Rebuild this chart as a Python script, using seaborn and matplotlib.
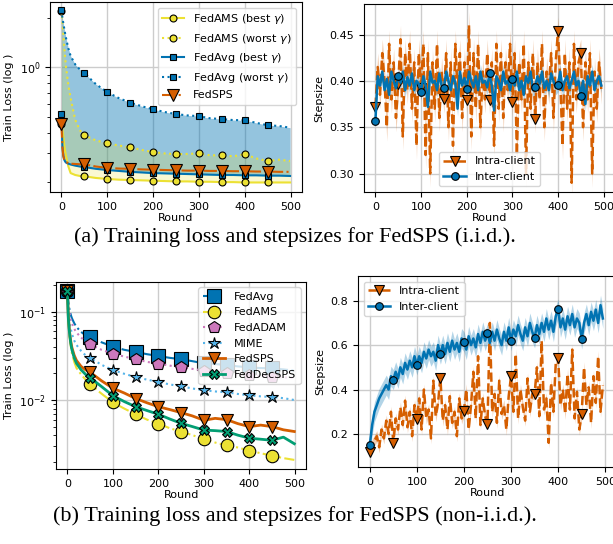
import matplotlib
matplotlib.use("Agg")
import matplotlib.pyplot as plt
import matplotlib.ticker as mticker
import seaborn as sns

# ---- data ------------------------------------------------------------------
loss_rounds = [0, 2, 4, 6, 8, 10, 15, 20, 30, 40, 50, 75, 100, 125, 150, 175, 200,
               225, 250, 275, 300, 325, 350, 375, 400, 425, 450, 475, 499]

# (a) i.i.d. training loss
fedams_best = [0.45, 0.42, 0.38, 0.34, 0.31, 0.29, 0.25, 0.228, 0.222, 0.219, 0.218, 0.213,
               0.21, 0.208, 0.207, 0.206, 0.205, 0.204, 0.203, 0.203, 0.202, 0.202, 0.201,
               0.201, 0.2, 0.2, 0.2, 0.2, 0.2]
fedams_worst = [2.2, 1.9, 1.6, 1.35, 1.15, 1.0, 0.78, 0.65, 0.48, 0.415, 0.387, 0.36, 0.346,
                0.335, 0.327, 0.315, 0.306, 0.30, 0.297, 0.298, 0.30, 0.292, 0.293, 0.288,
                0.297, 0.28, 0.27, 0.275, 0.27]
fedavg_best = [0.52, 0.33, 0.29, 0.275, 0.268, 0.264, 0.26, 0.257, 0.253, 0.25, 0.248, 0.242,
               0.238, 0.235, 0.232, 0.23, 0.228, 0.227, 0.226, 0.225, 0.224, 0.223, 0.222,
               0.222, 0.221, 0.221, 0.22, 0.22, 0.219]
fedavg_worst = [2.22, 2.0, 1.85, 1.72, 1.6, 1.5, 1.3, 1.17, 1.04, 0.97, 0.92, 0.79, 0.706,
                0.65, 0.61, 0.58, 0.556, 0.535, 0.52, 0.51, 0.505, 0.49, 0.485, 0.478, 0.477,
                0.46, 0.445, 0.44, 0.43]
fedsps_iid = [0.45, 0.33, 0.29, 0.275, 0.27, 0.266, 0.262, 0.26, 0.259, 0.258, 0.258, 0.25,
              0.245, 0.243, 0.242, 0.24, 0.239, 0.238, 0.237, 0.236, 0.236, 0.235, 0.235,
              0.234, 0.234, 0.233, 0.233, 0.232, 0.232]

# (b) non-i.i.d. training loss
nf_fedavg = [0.17, 0.13, 0.11, 0.098, 0.09, 0.084, 0.074, 0.067, 0.059, 0.054, 0.0513, 0.045,
             0.0402, 0.037, 0.035, 0.033, 0.0315, 0.030, 0.0289, 0.0275, 0.026, 0.0255,
             0.0249, 0.024, 0.0234, 0.023, 0.0228, 0.0222, 0.0215]
nf_fedams = [0.17, 0.08, 0.058, 0.046, 0.039, 0.034, 0.027, 0.023, 0.0195, 0.017, 0.0151,
             0.0118, 0.0094, 0.008, 0.0069, 0.006, 0.0054, 0.0048, 0.00438, 0.004, 0.00362,
             0.0033, 0.00307, 0.0029, 0.00267, 0.0025, 0.00234, 0.0022, 0.0021]
nf_fedadam = [0.17, 0.12, 0.10, 0.088, 0.08, 0.074, 0.064, 0.058, 0.051, 0.046, 0.0428, 0.037,
              0.0335, 0.031, 0.029, 0.027, 0.0258, 0.0245, 0.0234, 0.0225, 0.0215, 0.0208,
              0.020, 0.0195, 0.019, 0.0187, 0.0184, 0.018, 0.0178]
nf_mime = [0.17, 0.11, 0.085, 0.07, 0.062, 0.056, 0.047, 0.042, 0.036, 0.032, 0.0301, 0.025,
           0.0219, 0.0198, 0.0182, 0.017, 0.016, 0.015, 0.0143, 0.0135, 0.0129, 0.0125,
           0.0122, 0.0117, 0.0113, 0.011, 0.0108, 0.0105, 0.0100]
nf_fedsps = [0.17, 0.09, 0.065, 0.052, 0.044, 0.039, 0.032, 0.028, 0.024, 0.022, 0.0206,
             0.0165, 0.0136, 0.012, 0.0104, 0.0093, 0.0084, 0.0078, 0.0072, 0.0066, 0.0059,
             0.0062, 0.006, 0.0054, 0.005, 0.0052, 0.005, 0.0046, 0.0044]
nf_feddecsps = [0.17, 0.085, 0.062, 0.05, 0.042, 0.037, 0.03, 0.026, 0.022, 0.0195, 0.0179,
                0.0142, 0.0112, 0.0096, 0.0084, 0.0076, 0.0069, 0.0061, 0.00545, 0.005,
                0.00457, 0.0045, 0.0044, 0.004, 0.0037, 0.0036, 0.0035, 0.0038, 0.0032]

step_rounds = list(range(0, 500, 5))

iid_intra = [0.372, 0.415, 0.385, 0.43, 0.40, 0.35, 0.44, 0.38, 0.42, 0.36,
             0.397, 0.445, 0.34, 0.43, 0.39, 0.44, 0.37, 0.42, 0.33, 0.43,
             0.392, 0.44, 0.32, 0.43, 0.30, 0.42, 0.37, 0.44, 0.36, 0.41,
             0.38, 0.43, 0.35, 0.42, 0.33, 0.44, 0.39, 0.43, 0.36, 0.42,
             0.379, 0.46, 0.34, 0.43, 0.37, 0.44, 0.35, 0.41, 0.38, 0.43,
             0.379, 0.42, 0.33, 0.44, 0.37, 0.43, 0.36, 0.42, 0.39, 0.44,
             0.377, 0.43, 0.32, 0.42, 0.38, 0.44, 0.30, 0.42, 0.37, 0.43,
             0.359, 0.42, 0.38, 0.44, 0.35, 0.41, 0.39, 0.43, 0.36, 0.42,
             0.454, 0.40, 0.33, 0.43, 0.37, 0.42, 0.29, 0.44, 0.38, 0.42,
             0.43, 0.35, 0.42, 0.38, 0.43, 0.30, 0.41, 0.37, 0.42, 0.39]
iid_inter = [0.357, 0.405, 0.395, 0.41, 0.39, 0.402, 0.385, 0.41, 0.40, 0.392,
             0.405, 0.398, 0.41, 0.39, 0.404, 0.395, 0.408, 0.39, 0.40, 0.397,
             0.388, 0.405, 0.395, 0.372, 0.41, 0.398, 0.40, 0.39, 0.408, 0.395,
             0.392, 0.41, 0.40, 0.39, 0.405, 0.398, 0.37, 0.41, 0.395, 0.403,
             0.391, 0.41, 0.40, 0.393, 0.405, 0.39, 0.41, 0.398, 0.40, 0.393,
             0.408, 0.395, 0.368, 0.405, 0.40, 0.39, 0.41, 0.397, 0.40, 0.39,
             0.402, 0.395, 0.41, 0.39, 0.40, 0.385, 0.405, 0.398, 0.41, 0.39,
             0.393, 0.405, 0.397, 0.41, 0.392, 0.40, 0.39, 0.408, 0.40, 0.393,
             0.396, 0.41, 0.39, 0.40, 0.405, 0.392, 0.40, 0.41, 0.395, 0.40,
             0.384, 0.40, 0.375, 0.405, 0.395, 0.41, 0.39, 0.40, 0.405, 0.395]

niid_intra = [0.12, 0.15, 0.17, 0.19, 0.14, 0.22, 0.18, 0.26, 0.20, 0.30,
              0.161, 0.27, 0.22, 0.32, 0.24, 0.35, 0.23, 0.30, 0.19, 0.33,
              0.266, 0.36, 0.22, 0.40, 0.27, 0.31, 0.18, 0.44, 0.28, 0.34,
              0.454, 0.26, 0.33, 0.22, 0.37, 0.25, 0.30, 0.19, 0.36, 0.27,
              0.304, 0.40, 0.22, 0.33, 0.48, 0.27, 0.55, 0.24, 0.36, 0.28,
              0.244, 0.70, 0.30, 0.38, 0.25, 0.44, 0.29, 0.33, 0.22, 0.37,
              0.461, 0.30, 0.56, 0.27, 0.40, 0.32, 0.26, 0.45, 0.30, 0.38,
              0.379, 0.50, 0.28, 0.62, 0.31, 0.36, 0.16, 0.43, 0.30, 0.52,
              0.544, 0.33, 0.40, 0.29, 0.47, 0.31, 0.58, 0.27, 0.39, 0.22,
              0.289, 0.50, 0.33, 0.41, 0.25, 0.46, 0.34, 0.55, 0.30, 0.42]
niid_inter = [0.15, 0.24, 0.30, 0.33, 0.36, 0.38, 0.40, 0.42, 0.40, 0.46,
              0.445, 0.48, 0.45, 0.50, 0.47, 0.52, 0.49, 0.53, 0.50, 0.55,
              0.511, 0.55, 0.52, 0.57, 0.54, 0.58, 0.55, 0.57, 0.53, 0.60,
              0.559, 0.60, 0.56, 0.61, 0.57, 0.62, 0.58, 0.61, 0.57, 0.63,
              0.616, 0.58, 0.64, 0.60, 0.63, 0.59, 0.65, 0.61, 0.66, 0.62,
              0.653, 0.61, 0.66, 0.62, 0.67, 0.63, 0.60, 0.66, 0.62, 0.68,
              0.62, 0.67, 0.64, 0.69, 0.65, 0.62, 0.68, 0.64, 0.70, 0.66,
              0.632, 0.69, 0.65, 0.70, 0.66, 0.72, 0.67, 0.71, 0.66, 0.73,
              0.763, 0.68, 0.72, 0.67, 0.73, 0.69, 0.74, 0.68, 0.72, 0.70,
              0.627, 0.70, 0.74, 0.69, 0.75, 0.71, 0.76, 0.70, 0.78, 0.72]

# half-widths of the shaded bands around the stepsize curves
iid_intra_spread, iid_inter_spread = 0.015, 0.008
niid_intra_spread, niid_inter_spread = 0.025, 0.045

# ---- styling ---------------------------------------------------------------
pal = sns.color_palette("colorblind")
BLUE, ORANGE, GREEN, RED, PINK = pal[0], pal[1], pal[2], pal[3], pal[4]
YELLOW, LBLUE = pal[8], pal[9]

plt.rcParams["font.size"] = 8
plt.rcParams["axes.labelsize"] = 8
plt.rcParams["xtick.labelsize"] = 8
plt.rcParams["ytick.labelsize"] = 8
plt.rcParams["legend.fontsize"] = 8


def marks(rounds):
    return [r % 50 == 0 and r < 500 for r in rounds]


def curve(ax, x, y, color, ls, marker, label, ms, lw=1.5):
    sns.lineplot(x=x, y=y, ax=ax, color=color, linestyle=ls, marker=marker,
                 markevery=marks(x), markersize=ms, markeredgecolor="k",
                 markeredgewidth=0.8, linewidth=lw, label=label)


fig = plt.figure(figsize=(6.13, 5.44), dpi=100)
ax_tl = fig.add_axes([0.0816, 0.647, 0.411, 0.349])
ax_tr = fig.add_axes([0.5938, 0.647, 0.4095, 0.3456])
ax_bl = fig.add_axes([0.0914, 0.138, 0.408, 0.3438])
ax_br = fig.add_axes([0.584, 0.1415, 0.4225, 0.351])

# ---- (a) left: loss --------------------------------------------------------
ax = ax_tl
ax.fill_between(loss_rounds, fedavg_best, fedavg_worst, color=BLUE, alpha=0.42, lw=0)
ax.fill_between(loss_rounds, fedams_best, fedams_worst, color=YELLOW, alpha=0.22, lw=0)
curve(ax, loss_rounds, fedams_best, YELLOW, "-", "o", r"FedAMS (best $\gamma$)", 5)
curve(ax, loss_rounds, fedams_worst, YELLOW, ":", "o", r"FedAMS (worst $\gamma$)", 5)
curve(ax, loss_rounds, fedavg_best, BLUE, "-", "s", r"FedAvg (best $\gamma$)", 5)
curve(ax, loss_rounds, fedavg_worst, BLUE, ":", "s", r"FedAvg (worst $\gamma$)", 5)
curve(ax, loss_rounds, fedsps_iid, RED, "-.", "v", "FedSPS", 8.5)
ax.set_yscale("log")
ax.set_ylim(0.175, 2.48)
ax.yaxis.set_minor_formatter(mticker.NullFormatter())
ax.set_ylabel("Train Loss (log )")
ax.legend(loc="upper right", handlelength=2.0)

# ---- (a) right: stepsizes --------------------------------------------------
ax = ax_tr
ax.fill_between(step_rounds, [v - iid_intra_spread for v in iid_intra],
                [v + iid_intra_spread for v in iid_intra], color=RED, alpha=0.3, lw=0)
ax.fill_between(step_rounds, [v - iid_inter_spread for v in iid_inter],
                [v + iid_inter_spread for v in iid_inter], color=BLUE, alpha=0.3, lw=0)
curve(ax, step_rounds, iid_intra, RED, "--", "v", "Intra-client", 7, lw=1.8)
curve(ax, step_rounds, iid_inter, BLUE, "-", "o", "Inter-client", 5.5, lw=1.8)
ax.set_ylim(0.28, 0.483)
ax.set_yticks([0.30, 0.35, 0.40, 0.45])
ax.set_ylabel("Stepsize")
ax.legend(loc="lower center", bbox_to_anchor=(0.5, 0.0))

# ---- (b) left: loss --------------------------------------------------------
ax = ax_bl
curve(ax, loss_rounds, nf_fedavg, BLUE, "-.", "s", "FedAvg", 10)
curve(ax, loss_rounds, nf_fedams, YELLOW, "-.", "o", "FedAMS", 9)
curve(ax, loss_rounds, nf_fedadam, PINK, ":", "p", "FedADAM", 9)
curve(ax, loss_rounds, nf_mime, LBLUE, ":", "*", "MIME", 9)
curve(ax, loss_rounds, nf_fedsps, RED, "-", "v", "FedSPS", 9, lw=2)
curve(ax, loss_rounds, nf_feddecsps, GREEN, "-", "X", "FedDecSPS", 7, lw=2)
ax.set_yscale("log")
ax.set_ylim(0.00166, 0.217)
ax.set_ylabel("Train Loss (log )")
ax.legend(loc="upper right", handlelength=2.0)

# ---- (b) right: stepsizes --------------------------------------------------
ax = ax_br
ax.fill_between(step_rounds, [v - niid_intra_spread for v in niid_intra],
                [v + niid_intra_spread for v in niid_intra], color=RED, alpha=0.3, lw=0)
ax.fill_between(step_rounds, [v - niid_inter_spread for v in niid_inter],
                [v + niid_inter_spread for v in niid_inter], color=BLUE, alpha=0.3, lw=0)
curve(ax, step_rounds, niid_intra, RED, "--", "v", "Intra-client", 7, lw=1.8)
curve(ax, step_rounds, niid_inter, BLUE, "-", "o", "Inter-client", 5.5, lw=1.8)
ax.set_ylim(0.051, 0.911)
ax.set_yticks([0.2, 0.4, 0.6, 0.8])
ax.set_ylabel("Stepsize")
ax.legend(loc="upper left")

for ax in (ax_tl, ax_tr, ax_bl, ax_br):
    ax.set_xlim(-25, 525)
    ax.set_xticks([0, 100, 200, 300, 400, 500])
    ax.set_xlabel("Round", labelpad=1)
    ax.grid(True, which="major", color="#cccccc", linewidth=1.0)
    ax.set_axisbelow(True)

fig.text(0.481, 0.564, "(a) Training loss and stepsizes for FedSPS (i.i.d.).",
         ha="center", va="center", family="Liberation Serif", fontsize=16)
fig.text(0.481, 0.051, "(b) Training loss and stepsizes for FedSPS (non-i.i.d.).",
         ha="center", va="center", family="Liberation Serif", fontsize=16)

fig.savefig("out.png", dpi=100)
